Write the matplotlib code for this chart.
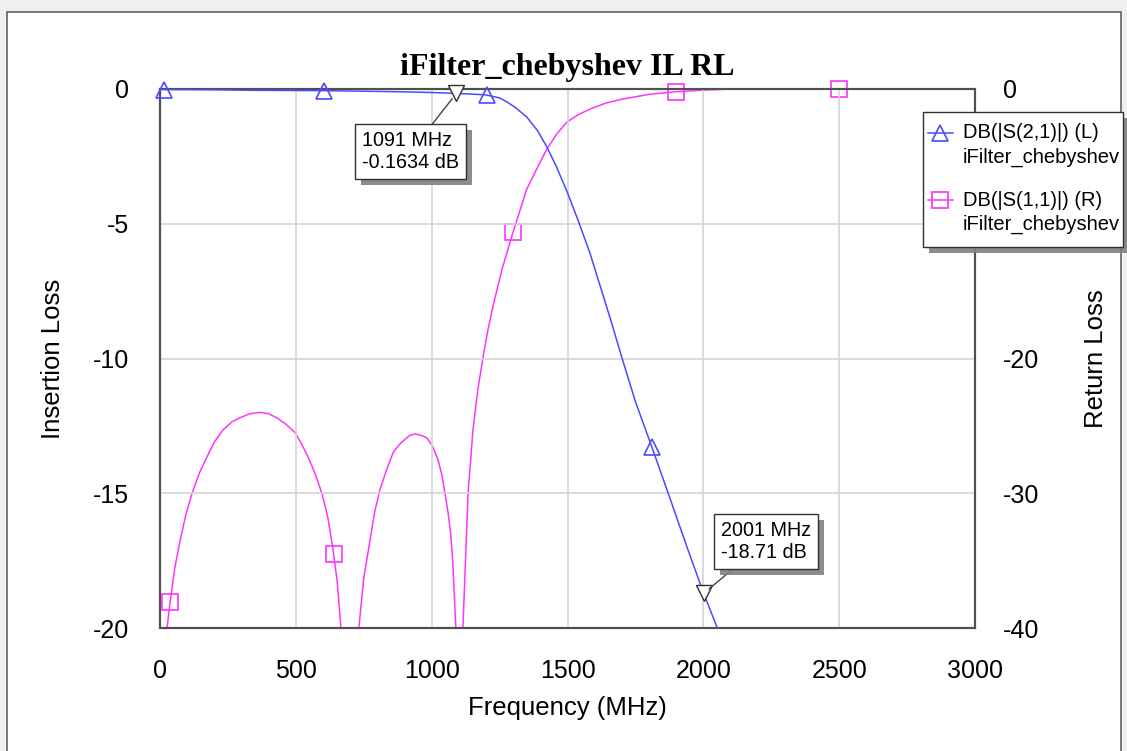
import numpy as np
import matplotlib
matplotlib.use("Agg")
import matplotlib.pyplot as plt
from matplotlib.lines import Line2D
from matplotlib.patches import Rectangle
import matplotlib.patheffects as pe

# S21 (insertion loss, left axis)
s21_freq = [0, 200, 357, 600, 872, 1000, 1091, 1150, 1200, 1250, 1277, 1310, 1350,
            1390, 1424, 1460, 1498, 1540, 1583, 1620, 1660, 1700, 1750, 1810, 1870,
            1940, 2001, 2050, 2120]
s21_db = [-0.02, -0.03, -0.05, -0.06, -0.10, -0.13, -0.1634, -0.19, -0.22, -0.33, -0.48,
          -0.70, -1.04, -1.55, -2.15, -2.9, -3.8, -4.9, -6.1, -7.3, -8.6, -9.96, -11.6,
          -13.27, -14.98, -17.0, -18.71, -19.96, -21.6]
s21_mk_freq = [15, 605, 1205, 1810]
s21_mk_db = [-0.02, -0.06, -0.22, -13.3]

# S11 (return loss, right axis)
s11_freq = [10, 26, 37, 55, 74, 95, 118, 145, 173, 200, 232, 265, 294, 330, 368, 400,
            430, 465, 497, 520, 545, 570, 596, 618, 637, 652, 666, 700,
            732, 750, 773, 790, 810, 835, 858, 880, 902, 920, 939, 960, 983, 1003, 1023,
            1037, 1049, 1060, 1070, 1078, 1089, 1102, 1115,
            1134, 1152, 1170, 1189, 1207, 1226, 1260, 1300, 1350, 1390, 1424, 1460, 1498,
            1540, 1583, 1640, 1704, 1800, 1888, 2000, 2105, 3000]
s11_db = [-48, -40, -38.1, -35.5, -33.5, -31.6, -30.0, -28.5, -27.3, -26.2, -25.3, -24.7,
          -24.4, -24.1, -24.0, -24.1, -24.4, -24.9, -25.5, -26.3, -27.3, -28.5, -30.0,
          -31.8, -34.2, -36.5, -40, -55,
          -40, -36.3, -33.5, -31.4, -29.7, -28.2, -27.0, -26.4, -26.0, -25.7, -25.6, -25.7,
          -25.9, -26.5, -27.5, -28.6, -30.0, -31.4, -33.0, -35.2, -40, -55, -40,
          -30.0, -25.3, -22.3, -19.9, -17.9, -16.1, -13.3, -10.6, -7.43, -5.8, -4.46,
          -3.35, -2.45, -1.9, -1.49, -1.05, -0.74, -0.40, -0.22, -0.08, 0.0, 0.0]
s11_mk_freq = [37, 640, 1300, 1900, 2500]
s11_mk_db = [-38.1, -34.5, -10.6, -0.2, 0.0]

# marker readouts
mk_freq = [1091, 2001]
mk_db = [-0.1634, -18.71]
mk_text = ["1091 MHz\n-0.1634 dB", "2001 MHz\n-18.71 dB"]

series_names = ["DB(|S(2,1)|) (L)", "DB(|S(1,1)|) (R)"]
source_name = "iFilter_chebyshev"

blue = "#4a4aff"
pink = "#ff33ff"
plt.rcParams["font.family"] = ["Liberation Sans", "DejaVu Sans"]
plt.rcParams["axes.unicode_minus"] = False

W, H = 1127, 751
fig = plt.figure(figsize=(W / 100, H / 100), dpi=100, facecolor="#f0f0f0")
fig.patches.append(Rectangle((7 / W, -0.01), 1114 / W, (H - 12) / H + 0.01,
                             transform=fig.transFigure, facecolor="white",
                             edgecolor="#606060", lw=1.2, zorder=-5))

ax = fig.add_axes([160 / W, 1 - 628 / H, 815 / W, 539 / H])
ax2 = ax.twinx()
ax.set_zorder(ax2.get_zorder() + 1)
ax.patch.set_visible(False)

ax.plot(s21_freq, s21_db, color=blue, lw=1.1, zorder=3)
ax.plot(s21_mk_freq, s21_mk_db, ls="none", marker="^", ms=11, mfc="none", mec=blue,
        mew=1.2, zorder=3, clip_on=False)
ax2.plot(s11_freq, s11_db, color=pink, lw=1.1, zorder=3)
ax2.plot(s11_mk_freq, s11_mk_db, ls="none", marker="s", ms=12, mfc="none", mec=pink,
         mew=1.2, zorder=3, clip_on=False)

ax.set_xlim(0, 3000)
ax.set_ylim(-20, 0)
ax2.set_ylim(-40, 0)
ax.set_xticks(np.arange(0, 3001, 500))
ax.set_yticks(np.arange(-20, 1, 5))
ax2.set_yticks(np.arange(-40, 1, 10))
# the legend hides the right-hand "-10" label in the reference
ax2.set_yticklabels(["-40", "-30", "-20", "", "0"])
ax.grid(True, color="#d4d4d4", lw=1.2)
ax.set_axisbelow(True)
ax.tick_params(axis="x", length=0, labelsize=18, pad=22)
ax.tick_params(axis="y", length=0, labelsize=18, pad=22)
ax2.tick_params(length=0, labelsize=18, pad=20)
for a in (ax, ax2):
    for s in a.spines.values():
        s.set_color("#505050")
        s.set_linewidth(1.5)

ax.set_xlabel("Frequency (MHz)", fontsize=18.5, labelpad=10)
ax.set_ylabel("Insertion Loss", fontsize=18.5, labelpad=20)
ax2.set_ylabel("Return Loss", fontsize=18.5, labelpad=32)
ax.set_title("iFilter_chebyshev IL RL", fontsize=23, fontweight="bold",
             family="Liberation Serif", pad=10)

# marker readouts with shadowed boxes
shadow = [pe.SimplePatchShadow(offset=(4, -4), shadow_rgbFace="#808080", alpha=0.9),
          pe.Normal()]
ax.plot(mk_freq, mk_db, ls="none", marker="v", ms=12, mfc="white", mec="#303030",
        mew=1.0, zorder=5, clip_on=False)
offsets = [(-33, -42), (45, 37)]
for f, d, t, off in zip(mk_freq, mk_db, mk_text, offsets):
    ann = ax.annotate(t, xy=(f, d), xytext=off, textcoords="offset points",
                      fontsize=14.2, ha="center", va="center", zorder=6, ma="left",
                      bbox=dict(boxstyle="square,pad=0.35", fc="white", ec="#303030", lw=1.0),
                      arrowprops=dict(arrowstyle="-", color="#404040", lw=1.0,
                                      shrinkA=0, shrinkB=5))
    ann.get_bbox_patch().set_path_effects(shadow)

# legend box drawn by hand to match the two-line entries
frame = Rectangle((923 / W, 1 - 247 / H), 200 / W, 135 / H, transform=fig.transFigure,
                  facecolor="white", edgecolor="#303030", lw=1.0, zorder=10)
frame.set_path_effects(shadow)
fig.patches.append(frame)
styles = [dict(color=blue, marker="^", ms=11), dict(color=pink, marker="s", ms=12)]
for i, (name, st) in enumerate(zip(series_names, styles)):
    y = 1 - (133 + 67 * i) / H
    fig.add_artist(Line2D([928 / W, 953 / W], [y, y], transform=fig.transFigure,
                          color=st["color"], lw=1.1, zorder=11))
    fig.add_artist(Line2D([940 / W], [y], transform=fig.transFigure, ls="none",
                          marker=st["marker"], ms=st["ms"], mfc="none", mec=st["color"],
                          mew=1.2, zorder=11))
    fig.text(963 / W, y, name, fontsize=14.5, va="center", ha="left", zorder=11)
    fig.text(963 / W, y - 24 / H, source_name, fontsize=14.5, va="center", ha="left",
             zorder=11)

fig.savefig("out.png", dpi=100, facecolor=fig.get_facecolor())
